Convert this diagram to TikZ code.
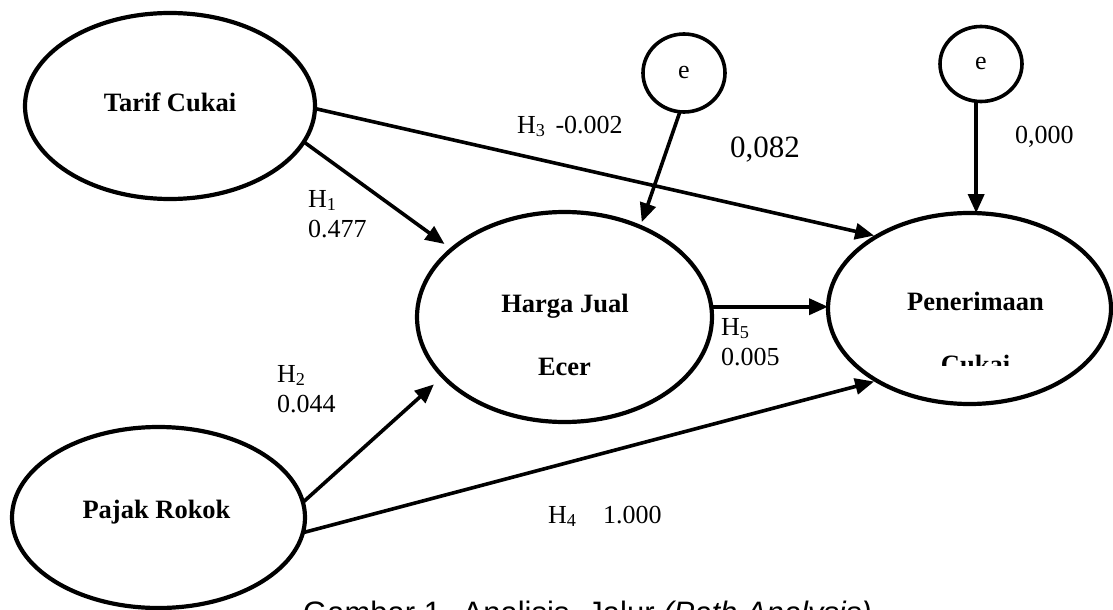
\documentclass[tikz,border=0pt]{standalone}
\usepackage{fontspec}
\setmainfont{Liberation Serif}
\newfontfamily\capfont{Liberation Sans}
\usetikzlibrary{shapes.geometric,arrows.meta}
\tikzset{
  latent/.style={ellipse, draw, line width=4.2pt, inner sep=0pt, outer sep=0pt},
  errc/.style={ellipse, draw, line width=3.6pt, inner sep=0pt, outer sep=0pt,
    font=\fontsize{26}{30}\selectfont},
  arr/.style={-{Triangle[length=19pt,width=16pt]}, line width=3.6pt},
  lbl/.style={font=\fontsize{26}{30}\selectfont, inner sep=0pt, anchor=base west},
  bigl/.style={font=\fontsize{31}{36}\selectfont, inner sep=0pt, anchor=base west},
  blbl/.style={font=\fontsize{26.5}{30}\selectfont\bfseries, inner sep=0pt, anchor=base},
  captxt/.style={font=\capfont\fontsize{31}{36}\selectfont, inner sep=0pt, anchor=base west}
}
\begin{document}
\begin{tikzpicture}[x=1pt,y=-1pt]
\useasboundingbox (0,0) rectangle (1113,610);
\clip (0,0) rectangle (1113,610);
\fill[white] (0,0) rectangle (1113,610);

% latent variables
\node[latent, minimum width=290pt, minimum height=186pt] (tarif) at (170,106) {};
\node[latent, minimum width=295pt, minimum height=210pt] (hje) at (564.5,317) {};
\node[latent, minimum width=283pt, minimum height=191pt] (pen) at (969.5,308.5) {};
\node[latent, minimum width=293pt, minimum height=181pt] (pajak) at (158.5,517.5) {};

% error terms
\node[errc, minimum width=82pt, minimum height=78pt] (e1) at (684,73) {e};
\node[errc, minimum width=82pt, minimum height=75pt] (e2) at (981,64) {e};

% latent labels
\node[blbl] (tTarif) at (170,111) {Tarif Cukai};
\node[blbl] (tPajak) at (156.5,518) {Pajak Rokok};
\node[blbl] (tHarga) at (565,312) {Harga Jual};
\node[blbl] (tEcer) at (564.5,375) {Ecer};
\node[blbl] (tPen) at (975.5,310) {Penerimaan};
\begin{scope}
  \clip (820,330) rectangle (1113,365);
  \node[blbl] (tCukai) at (975.5,373) {Cukai};
\end{scope}

% paths
\draw[arr, shorten >=9pt] (tarif.-15) -- (hje.149);
\draw[arr, shorten >=12pt] (pajak.6) -- (hje.206);
\draw[arr, shorten >=5pt] (e1.-96) -- (hje.50);
\draw[arr, shorten >=3pt] (tarif.-1) -- (pen.142);
\draw[arr, shorten >=3pt] (pajak.-6) -- (pen.218);
\draw[arr] (hje.4) -- (hje.4 -| pen.west);
\draw[arr] (pen.86 |- e2.south) -- (pen.86);

% coefficient labels
\node[lbl] (lH3) at (517,133) {H\textsubscript{3}\hspace{10pt}-0.002};
\node[bigl] (l082) at (730,157) {0,082};
\node[lbl] (l000) at (1015,143) {0,000};
\node[lbl] (lH1) at (308,207) {H\textsubscript{1}};
\node[lbl] (v1) at (308,237) {0.477};
\node[lbl] (lH2) at (277,382) {H\textsubscript{2}};
\node[lbl] (v2) at (277,412) {0.044};
\node[lbl] (lH5) at (721,335) {H\textsubscript{5}};
\node[lbl] (v5) at (721,365) {0.005};
\node[lbl] (lH4) at (548,523) {H\textsubscript{4}};
\node[lbl] (v4) at (603,523) {1.000};

% caption (cut off at the lower edge, as in the reference)
\node[captxt] (caption) at (303,623) {Gambar 1.\hspace{13pt}Analisis\hspace{18pt}Jalur \textit{(Path Analysis)}};
\end{tikzpicture}
\end{document}
